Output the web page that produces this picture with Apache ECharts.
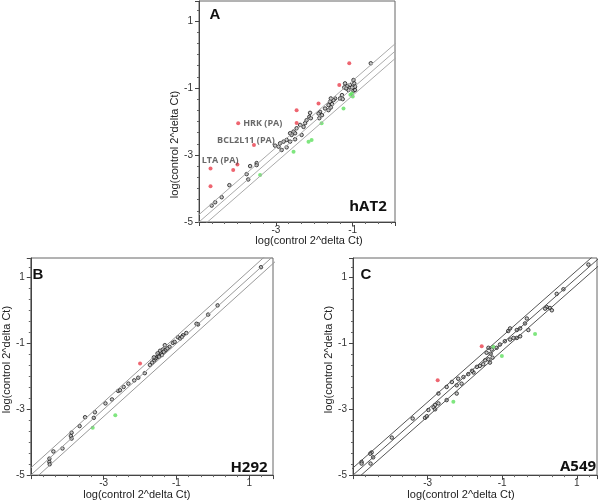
<!DOCTYPE html>
<html>
<head>
<meta charset="utf-8">
<script src="https://cdn.jsdelivr.net/npm/echarts@6/dist/echarts.min.js"></script>
<style>
  html, body { margin: 0; background: #fff; }
  #main { width: 601px; height: 501px; }
</style>
</head>
<body>
<div id="main"></div>
<script>
// log(control 2^delta Ct) on x, log(treated 2^delta Ct) on y
var hat2Black = [
  [-0.53, -0.26],
  [-0.96, -0.86], [-1.07, -0.91], [-1.14, -0.94], [-1.2, -0.86], [-0.94, -0.96], [-0.98, -1.08],
  [-1.11, -1.06], [-1.22, -0.98], [-1.17, -1.01], [-0.98, -0.76], [-0.94, -1.06], [-1.02, -0.98],
  [-1.28, -1.21], [-1.33, -1.31], [-1.46, -1.31], [-1.5, -1.36], [-1.59, -1.41], [-1.54, -1.48],
  [-1.63, -1.51], [-1.57, -1.58], [-1.63, -1.66], [-1.72, -1.61], [-1.26, -1.33], [-1.57, -1.31],
  [-1.85, -1.71], [-1.89, -1.76], [-1.8, -1.81], [-1.87, -1.9],
  [-2.11, -1.74], [-2.13, -1.86], [-2.09, -1.9], [-2.2, -1.96], [-2.24, -2.05], [-2.28, -2.16],
  [-2.37, -2.1], [-2.46, -2.2], [-2.54, -2.3], [-2.59, -2.4], [-2.33, -2.4], [-2.5, -2.35], [-2.63, -2.35],
  [-2.72, -2.55], [-2.8, -2.6], [-2.89, -2.65], [-2.93, -2.75], [-2.85, -2.85], [-2.63, -2.6],
  [-2.5, -2.53], [-3.02, -2.72], [-2.72, -2.77],
  [-3.5, -3.24], [-3.5, -3.3], [-3.67, -3.33], [-3.76, -3.57], [-3.72, -3.73],
  [-4.21, -3.9], [-4.41, -4.26], [-4.58, -4.41], [-4.67, -4.51]
];
var hat2Red = [
  [-1.09, -0.26], [-1.35, -0.91], [-1.89, -1.46], [-2.46, -1.66], [-2.46, -2.04],
  [-3.98, -2.05], [-3.57, -2.70], [-4.0, -3.28], [-4.11, -3.45], [-4.7, -3.40], [-4.7, -3.93]
];
var hat2RedNames = ['', '', '', '', '', 'HRK (PA)', 'BCL2L11 (PA)', 'LTA (PA)', '', '', ''];
var hat2Green = [
  [-1.02, -1.16], [-1.0, -1.25], [-1.06, -1.2], [-1.24, -1.61], [-1.81, -2.05],
  [-2.07, -2.55], [-2.15, -2.6], [-2.54, -2.9], [-3.41, -3.6]
];

var h292Black = [
  [1.32, 1.32], [0.13, 0.16], [-0.13, -0.12], [-0.41, -0.42], [-0.45, -0.4], [-0.73, -0.68],
  [-0.82, -0.75], [-0.96, -0.81], [-0.9, -0.85], [-1.1, -0.98], [-1.19, -1.1], [-1.32, -1.05],
  [-1.37, -1.18], [-1.43, -1.28], [-1.5, -1.35], [-1.55, -1.43], [-1.61, -1.51], [-1.67, -1.58],
  [-1.73, -1.65], [-1.4, -1.35], [-1.45, -1.22], [-1.52, -1.3], [-1.58, -1.45], [-1.3, -1.2],
  [-1.25, -1.15], [-1.35, -1.25], [-1.48, -1.4], [-1.62, -1.42], [-1.05, -0.95], [-0.85, -0.8],
  [-1.87, -1.9], [-2.05, -2.04], [-2.16, -2.12], [-2.32, -2.22], [-2.45, -2.32], [-2.6, -2.44],
  [-2.55, -2.42], [-2.77, -2.7], [-2.95, -2.82], [-3.24, -3.09], [-3.27, -3.26], [-3.51, -3.24],
  [-3.66, -3.51], [-3.88, -3.71], [-3.9, -3.81], [-3.88, -3.89], [-4.13, -4.19], [-4.38, -4.28],
  [-4.49, -4.5], [-4.49, -4.6], [-4.48, -4.67]
];
var h292Red = [[-2.0, -1.61]];
var h292Green = [[-3.3, -3.56], [-2.68, -3.18]];

var a549Black = [
  [1.31, 1.40], [0.64, 0.65], [0.46, 0.51], [0.19, 0.11], [0.15, 0.06], [0.28, 0.08], [0.33, 0.01],
  [-0.34, -0.24], [-0.39, -0.39], [-0.52, -0.54], [-0.61, -0.59], [-0.3, -0.59], [-0.79, -0.54],
  [-0.84, -0.62], [-0.52, -0.78], [-0.61, -0.83], [-0.7, -0.83], [-0.79, -0.88], [-0.93, -0.93],
  [-1.06, -1.03], [-1.15, -1.13], [-1.28, -1.18], [-1.37, -1.13], [-1.42, -1.28], [-1.31, -1.31],
  [-1.26, -1.43], [-1.37, -1.48], [-1.46, -1.51], [-1.33, -1.58], [-1.51, -1.63], [-1.6, -1.68],
  [-1.68, -1.71], [-1.77, -1.88], [-1.81, -1.83], [-1.91, -1.93], [-2.04, -2.02], [-2.18, -2.07],
  [-2.09, -2.22], [-2.22, -2.27], [-2.35, -2.17], [-2.49, -2.32], [-2.22, -2.52], [-2.49, -2.72],
  [-2.71, -2.52], [-2.71, -2.82], [-2.8, -2.87], [-2.84, -2.94], [-2.8, -3.0], [-2.98, -3.02],
  [-3.07, -3.26], [-3.02, -3.21], [-3.4, -3.28], [-3.96, -3.86], [-4.5, -4.31], [-4.54, -4.35],
  [-4.46, -4.46], [-4.53, -4.65], [-4.77, -4.6], [-4.77, -4.65]
];
var a549Red = [[-1.55, -1.08], [-2.73, -2.12]];
var a549Green = [[-0.12, -0.71], [-1.01, -1.38], [-2.31, -2.77], [-1.24, -1.1]];

// y = x and the two fold-change guide lines
var guideOffsets = [-0.22, 0, 0.22];
var guideSpan = [-6, 2];

var axisTitle = 'log(control 2^delta Ct)';
var labelFont = 'Liberation Sans';

var panels = [
  { grid: { left: 199, top: 1, width: 196, height: 221 }, xMax: 0.1, lineColor: '#aaa',
    xPad: [0, 0, 0, 24], yPad: [0, 66, 0, 0], yGap: 10 },
  { grid: { left: 28, top: 258, width: 245, height: 222 }, xMax: 1.65, lineColor: '#999',
    xPad: [0, 30, 0, 0], yPad: [0, 0, 0, 14], yGap: 13 },
  { grid: { left: 353, top: 258, width: 244, height: 222 }, xMax: 1.54, lineColor: '#555',
    xPad: [0, 28, 0, 0], yPad: [0, 0, 0, 14], yGap: 13 }
];

var labelPlace = {
  'HRK (PA)': { position: 'right', distance: 3, offset: [0, 0] },
  'BCL2L11 (PA)': { position: 'top', distance: 0, offset: [-8, 2] },
  'LTA (PA)': { position: 'left', distance: 1, offset: [4, -4] }
};

function axisCommon (gi, max) {
  return {
    type: 'value', gridIndex: gi, min: -5, max: max, interval: 2,
    splitLine: { show: false },
    axisLine: { show: true, onZero: false, lineStyle: { color: '#444', width: 1 } },
    axisTick: { show: true, length: 4, lineStyle: { color: '#444' } },
    minorTick: { show: true, splitNumber: 6, length: 2, lineStyle: { color: '#666' } },
    nameTextStyle: { fontFamily: labelFont, fontSize: 11, color: '#222' },
    nameLocation: 'middle'
  };
}

var grids = [], xAxes = [], yAxes = [], series = [];
var allData = [
  [hat2Black, hat2Red, hat2Green],
  [h292Black, h292Red, h292Green],
  [a549Black, a549Red, a549Green]
];

panels.forEach(function (p, i) {
  grids.push(Object.assign({ show: true, borderColor: '#666', borderWidth: 1, backgroundColor: '#fff' }, p.grid));

  var xa = axisCommon(i, p.xMax);
  xa.name = axisTitle;
  xa.nameGap = 9;
  xa.nameTextStyle = Object.assign({}, xa.nameTextStyle, { padding: p.xPad });
  xa.axisLabel = { showMinLabel: false, showMaxLabel: false, fontFamily: labelFont, fontSize: 10, color: '#333', margin: 3 };
  xAxes.push(xa);

  var ya = axisCommon(i, 1.6);
  ya.name = axisTitle;
  ya.nameGap = p.yGap;
  ya.nameTextStyle = Object.assign({}, ya.nameTextStyle, { padding: p.yPad });
  ya.axisLabel = { showMaxLabel: false, fontFamily: labelFont, fontSize: 10, color: '#333', margin: 6 };
  yAxes.push(ya);

  guideOffsets.forEach(function (off) {
    series.push({
      type: 'line', xAxisIndex: i, yAxisIndex: i, silent: true, symbol: 'none', animation: false,
      lineStyle: { color: p.lineColor, width: 1 },
      data: guideSpan.map(function (x) { return [x, x + off]; })
    });
  });

  var d = allData[i];
  series.push({
    type: 'scatter', xAxisIndex: i, yAxisIndex: i, symbolSize: 3.5, animation: false,
    itemStyle: { color: '#bbb', borderColor: '#1a1a1a', borderWidth: 1 },
    data: d[0]
  });
  series.push({
    type: 'scatter', xAxisIndex: i, yAxisIndex: i, symbolSize: 4, animation: false,
    itemStyle: { color: '#ea3f4c' },
    data: d[1].map(function (v, k) {
      var nm = i === 0 ? hat2RedNames[k] : '';
      if (!nm) return v;
      return {
        value: v,
        label: Object.assign({
          show: true, formatter: nm, fontFamily: 'Open Sans', fontWeight: 'bold',
          fontSize: 9, color: '#444'
        }, labelPlace[nm])
      };
    })
  });
  series.push({
    type: 'scatter', xAxisIndex: i, yAxisIndex: i, symbolSize: 4, animation: false,
    itemStyle: { color: '#5fe05f' },
    data: d[2]
  });
});

function tag (text, x, y, size, font) {
  return {
    type: 'text', x: x, y: y, z: 100,
    style: { text: text, fontFamily: font, fontWeight: 'bold', fontSize: size, fill: '#111', align: 'center', verticalAlign: 'middle' }
  };
}

var myChart = echarts.init(document.getElementById('main'));
myChart.setOption({
  animation: false,
  grid: grids,
  xAxis: xAxes,
  yAxis: yAxes,
  series: series,
  graphic: [
    tag('A', 215, 15, 15, labelFont),
    tag('B', 38, 275, 15, labelFont),
    tag('C', 366, 275, 15, labelFont),
    tag('hAT2', 368, 207, 15, 'Open Sans'),
    tag('H292', 249, 468, 15, 'Open Sans'),
    tag('A549', 578, 467, 15, 'Open Sans')
  ]
});
</script>
</body>
</html>
